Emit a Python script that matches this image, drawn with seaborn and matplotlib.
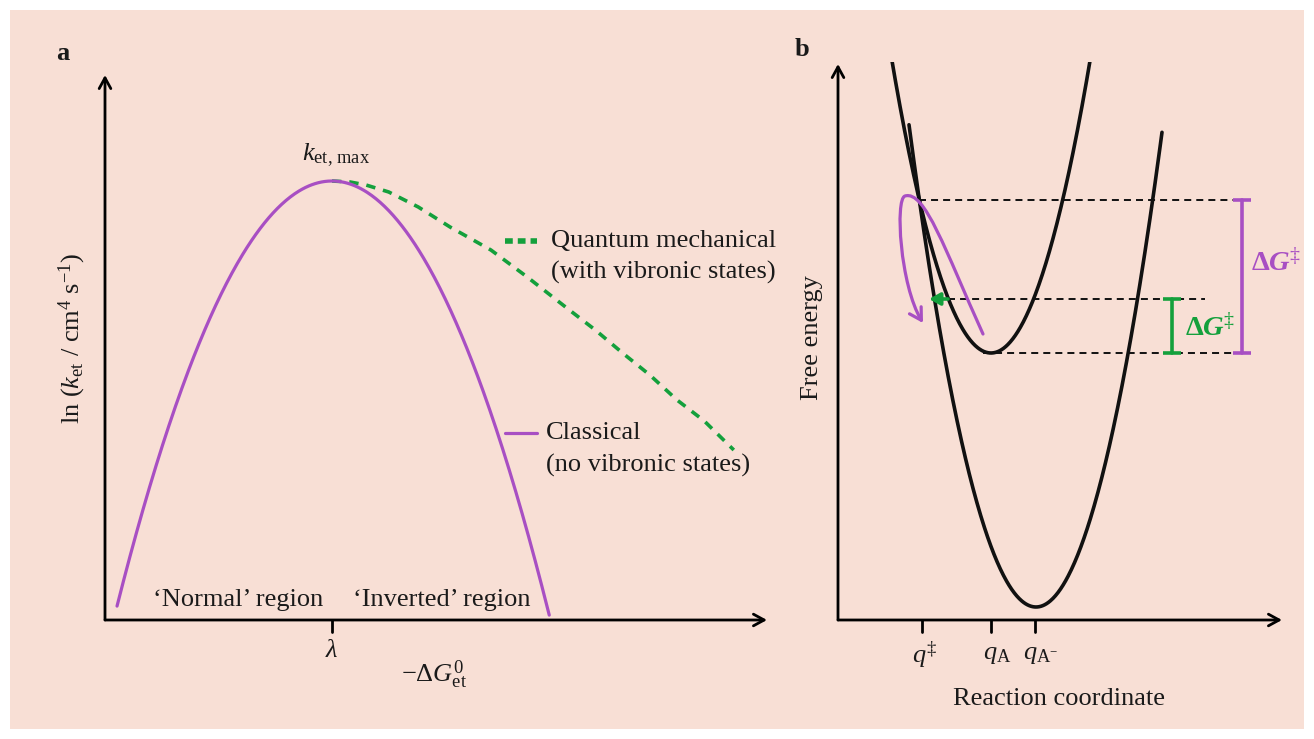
import numpy as np
import pandas as pd
import matplotlib
matplotlib.use("Agg")
import matplotlib.pyplot as plt
import seaborn as sns
from matplotlib.patches import FancyArrowPatch, Rectangle
from matplotlib.path import Path

# ---------------- data ----------------
# Panel a: Marcus rate vs driving force (x = -dG0 in units of lambda)
lam = 1.0
lnk_max = 4.39
marcus_curvature = 4.74
classical_range = [0.053, 1.957]
quantum_x = [1.00, 1.08, 1.15, 1.25, 1.38, 1.52, 1.70, 1.86, 2.04, 2.16,
             2.28, 2.40, 2.52, 2.64, 2.77]
quantum_y = [4.39, 4.38, 4.35, 4.28, 4.13, 3.93, 3.70, 3.43, 3.11, 2.90,
             2.67, 2.45, 2.20, 1.99, 1.70]

# Panel b: harmonic free-energy wells along the reaction coordinate
well_names = ["A", "A-"]
well_centres = [1.53, 1.98]
well_minima = [2.67, 0.13]
well_curvature = [2.98, 2.99]
well_ranges = [(0.53, 2.53), (0.71, 3.24)]
quantum_ts_level = 3.21
q_tick_pos = [0.84, 1.53, 1.97]
q_tick_labels = [r"$q^{\ddagger}$", r"$q_{\rm A}$", r"$q_{\rm A^{-}}$"]

PURPLE = "#a84fc3"
GREEN = "#14a03c"
BG = "#f8dfd5"

sns.set_theme(style="white")
plt.rcParams["font.family"] = ["Liberation Serif", "DejaVu Serif"]
plt.rcParams["mathtext.fontset"] = "custom"
plt.rcParams["mathtext.rm"] = "Liberation Serif"
plt.rcParams["mathtext.it"] = "Liberation Serif:italic"
plt.rcParams["mathtext.bf"] = "Liberation Serif:bold"
plt.rcParams["mathtext.bfit"] = "Liberation Serif:bold:italic"
plt.rcParams["text.color"] = "#1a1a1a"

W, H = 1314, 739
fig = plt.figure(figsize=(W / 100, H / 100), dpi=100, facecolor="white")
fig.patches.append(Rectangle((10 / W, 10 / H), (W - 20) / W, (H - 20) / H,
                             transform=fig.transFigure, facecolor=BG,
                             edgecolor="none", zorder=-10))


def fpos(px, py):
    return px / W, 1 - py / H


def ftext(px, py, s, **kw):
    kw.setdefault("fontsize", 19)
    kw.setdefault("ha", "center")
    kw.setdefault("va", "center")
    fig.text(*fpos(px, py), s, **kw)


axis_arrow = dict(arrowstyle="->,head_length=0.55,head_width=0.3",
                  lw=2, color="black", shrinkA=0, shrinkB=0, mutation_scale=14)

# ---------------- panel a ----------------
axa = fig.add_axes([105 / W, (H - 620) / H, 665 / W, 550 / H])
axa.set_xlim(0, 665 / 227)
axa.set_ylim(0, 5.5)
axa.axis("off")
axa.patch.set_alpha(0)

xc = np.linspace(classical_range[0], classical_range[1], 400)
classical = pd.DataFrame({"x": xc, "y": lnk_max - marcus_curvature * (xc - lam) ** 2})
quantum = pd.DataFrame({"x": quantum_x, "y": quantum_y})

sns.lineplot(data=quantum, x="x", y="y", ax=axa, color=GREEN, lw=2.6,
             dashes=False, sort=False, estimator=None, zorder=2)
axa.lines[-1].set_dashes([2.6, 2.2])
sns.lineplot(data=classical, x="x", y="y", ax=axa, color=PURPLE, lw=2.3,
             sort=False, estimator=None, zorder=3)

axa.annotate("", xy=(0, 5.45), xytext=(0, 0), arrowprops=axis_arrow, annotation_clip=False)
axa.annotate("", xy=(662 / 227, 0), xytext=(0, 0), arrowprops=axis_arrow, annotation_clip=False)
axa.plot([lam, lam], [0, -0.12], color="black", lw=2, clip_on=False)

# legend samples
axa.plot([400 / 227, 432 / 227], [3.79, 3.79], color=GREEN, lw=4,
         dashes=[1.4, 0.9], clip_on=False)
axa.plot([400 / 227, 432 / 227], [1.87, 1.87], color=PURPLE, lw=2.3, clip_on=False)

ftext(63, 53, "a", fontweight="bold")
ftext(336, 155, r"$k_{\rm et,\,max}$")
ftext(551, 241, "Quantum mechanical", ha="left")
ftext(551, 272, "(with vibronic states)", ha="left")
ftext(546, 433, "Classical", ha="left")
ftext(546, 465, "(no vibronic states)", ha="left")
ftext(238, 600, "\u2018Normal\u2019 region")
ftext(442, 600, "\u2018Inverted\u2019 region")
ftext(332, 651, r"$\lambda$")
ftext(434, 675, r"$-\Delta G^{0}_{\rm et}$")
ftext(72, 338, r"ln ($k_{\rm et}$ / cm$^{4}$ s$^{-1}$)", rotation=90)

# ---------------- panel b ----------------
axb = fig.add_axes([838 / W, (H - 620) / H, 444 / W, 558 / H])
axb.set_xlim(0, 4.44)
axb.set_ylim(0, 5.58)
axb.axis("off")
axb.patch.set_alpha(0)

for name, c, m, k, (lo, hi) in zip(well_names, well_centres, well_minima,
                                   well_curvature, well_ranges):
    q = np.linspace(lo, hi, 400)
    df = pd.DataFrame({"q": q, "G": m + k * (q - c) ** 2})
    sns.lineplot(data=df, x="q", y="G", ax=axb, color="#111111", lw=2.6,
                 sort=False, estimator=None, zorder=3)

# crossing point of the two wells (classical transition state)
qq = np.linspace(0.6, 1.2, 20001)
diff = (well_minima[0] + well_curvature[0] * (qq - well_centres[0]) ** 2) - \
       (well_minima[1] + well_curvature[1] * (qq - well_centres[1]) ** 2)
i_x = np.argmin(np.abs(diff))
q_ts = qq[i_x]
g_ts = well_minima[0] + well_curvature[0] * (q_ts - well_centres[0]) ** 2
g_min = well_minima[0]

dash_kw = dict(color="#111111", lw=1.4, dashes=[3.6, 2.6], zorder=2)
bar_purple_x, bar_green_x = 4.04, 3.34
axb.plot([q_ts, bar_purple_x - 0.09], [g_ts, g_ts], **dash_kw)
axb.plot([1.10, 3.67], [quantum_ts_level, quantum_ts_level], **dash_kw)
axb.plot([1.45, 4.12], [g_min, g_min], **dash_kw)

for bx, top, col in [(bar_purple_x, g_ts, PURPLE), (bar_green_x, quantum_ts_level, GREEN)]:
    axb.plot([bx, bx], [g_min, top], color=col, lw=2.6, zorder=4)
    for yy in (g_min, top):
        axb.plot([bx - 0.09, bx + 0.09], [yy, yy], color=col, lw=2.6, zorder=4,
                 solid_capstyle="butt")

# tunnelling arrow (green) and classical crossing path (purple)
axb.annotate("", xy=(0.91, quantum_ts_level), xytext=(1.10, quantum_ts_level),
             arrowprops=dict(arrowstyle="-|>,head_length=0.5,head_width=0.28",
                             lw=2.6, color=GREEN, shrinkA=0, shrinkB=0,
                             mutation_scale=13), zorder=5)
verts = [(1.45, 2.86), (1.07, 3.70), (0.87, 4.30), (0.67, 4.24),
         (0.57, 4.21), (0.62, 3.35), (0.85, 2.97)]
codes = [Path.MOVETO] + [Path.CURVE4] * 6
axb.add_patch(FancyArrowPatch(path=Path(verts, codes),
                              arrowstyle="->,head_length=0.6,head_width=0.35",
                              mutation_scale=14, lw=2.3, color=PURPLE,
                              transform=axb.transData, zorder=5))

axb.annotate("", xy=(0, 5.56), xytext=(0, 0), arrowprops=axis_arrow, annotation_clip=False)
axb.annotate("", xy=(4.44, 0), xytext=(0, 0), arrowprops=axis_arrow, annotation_clip=False)
for qt, lab in zip(q_tick_pos, q_tick_labels):
    axb.plot([qt, qt], [0, -0.12], color="black", lw=2, clip_on=False)
    fig.text(*fpos(838 + qt * 100 + (6 if "A" in lab else 2), 655), lab,
             fontsize=19, ha="center", va="center")

ftext(802, 49, "b", fontweight="bold")
ftext(1059, 699, "Reaction coordinate")
ftext(812, 338, "Free energy", rotation=90)
ftext(1251, 262, r"$\mathbf{\Delta}\mathbfit{G}^{\ddagger}$", color=PURPLE, ha="left",
      fontsize=20.5)
ftext(1185, 327, r"$\mathbf{\Delta}\mathbfit{G}^{\ddagger}$", color=GREEN, ha="left",
      fontsize=20.5)

fig.savefig("out.png", dpi=100, facecolor="white")
